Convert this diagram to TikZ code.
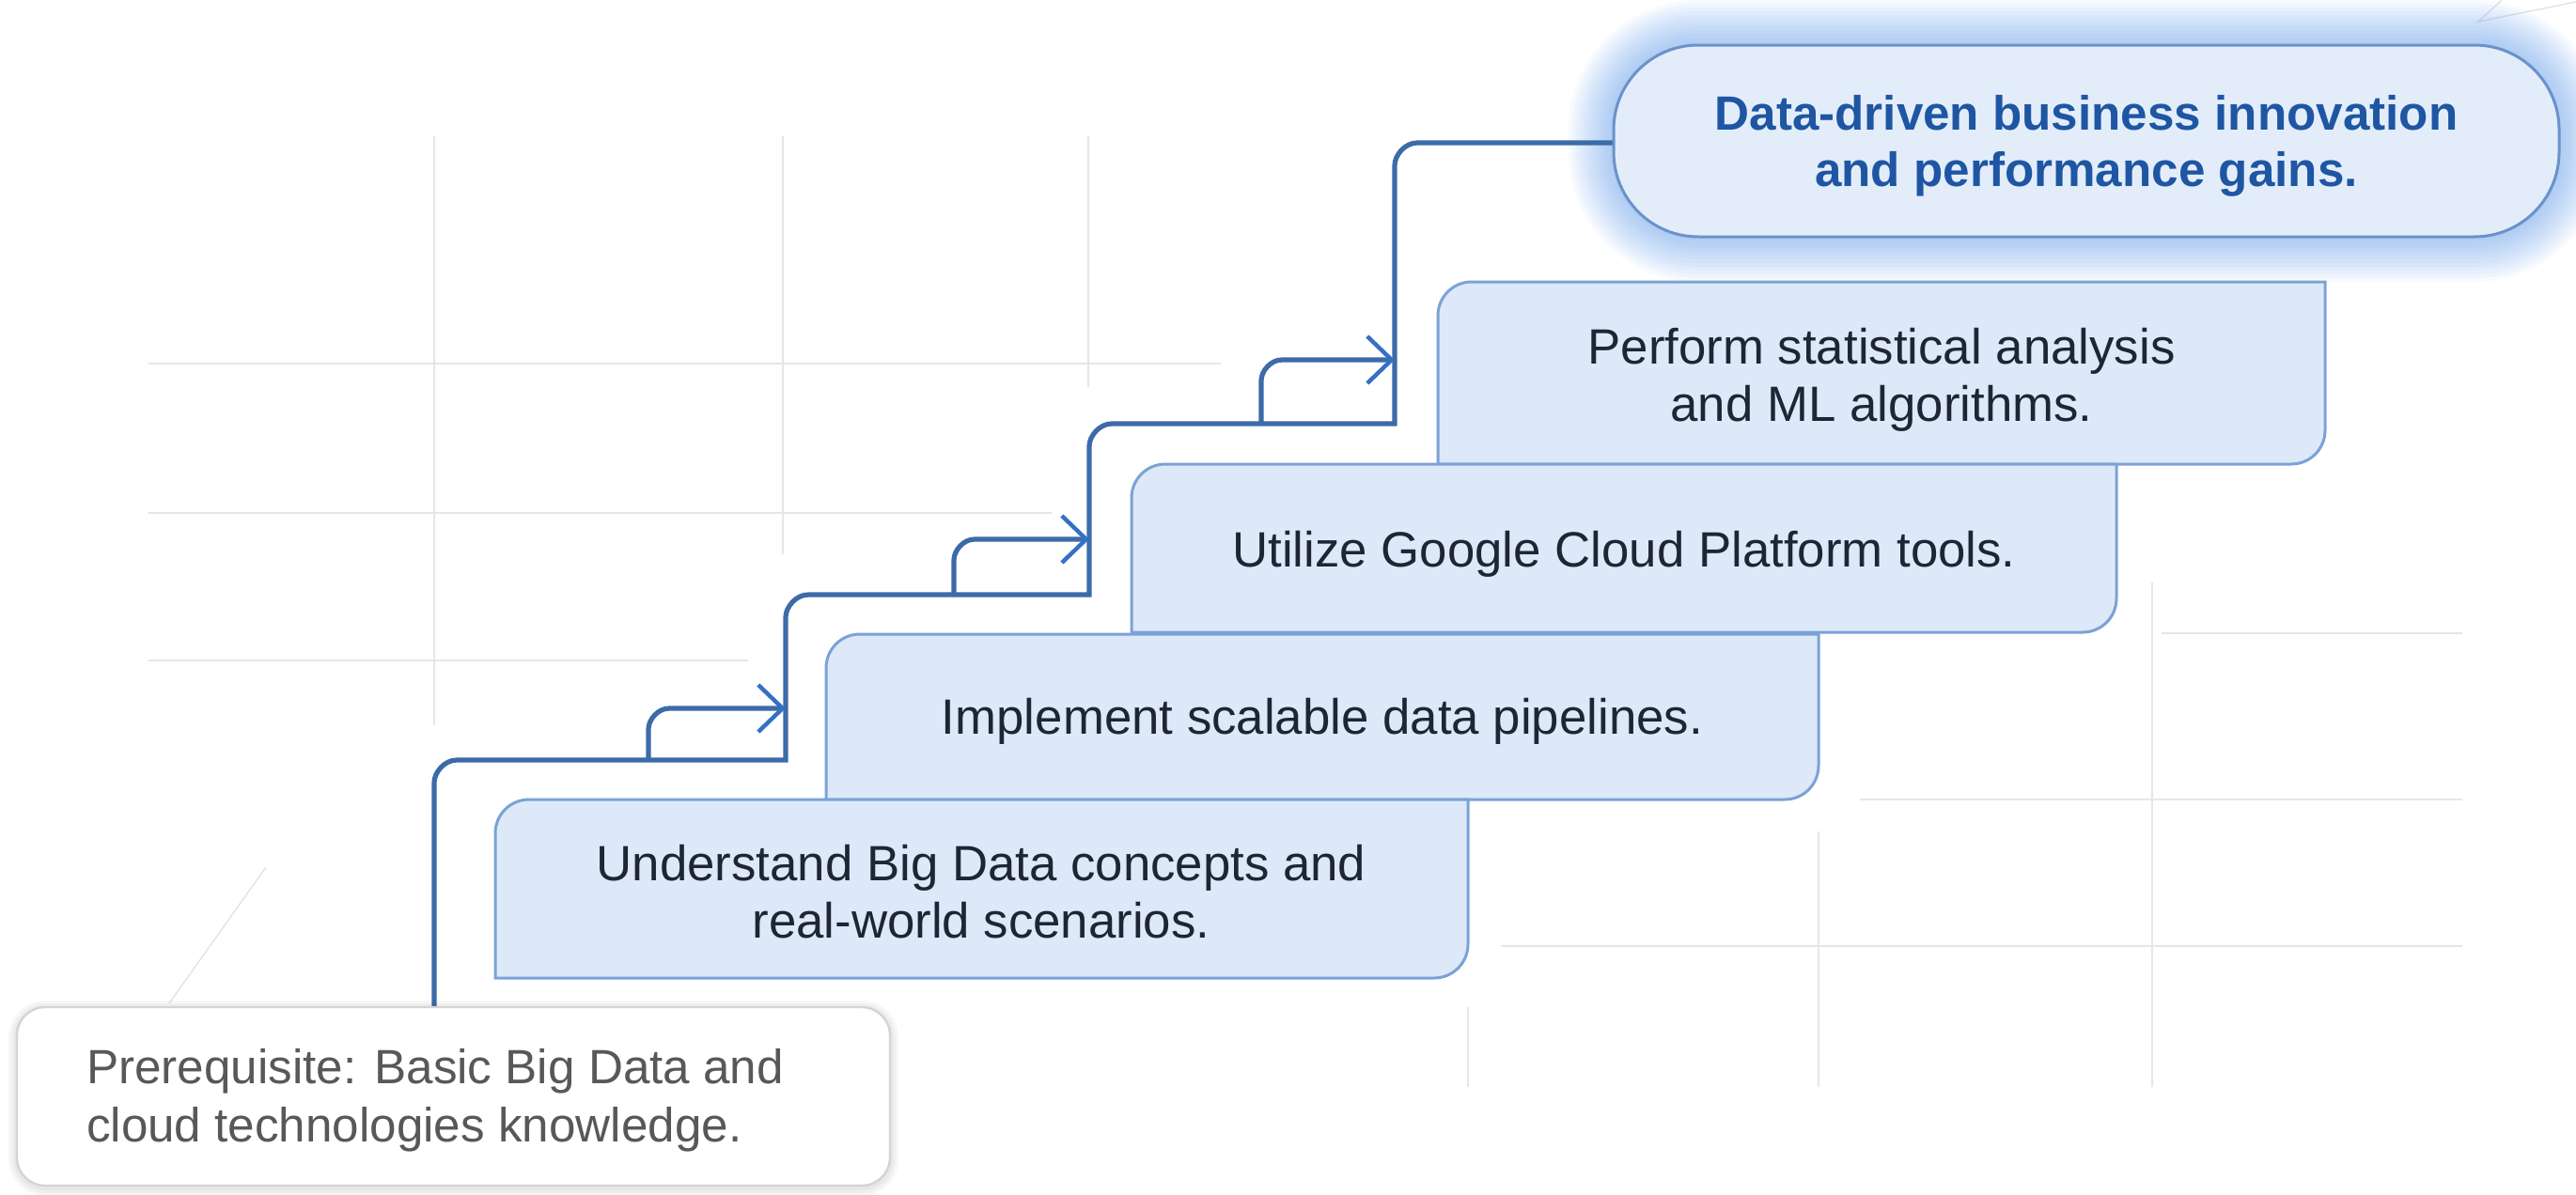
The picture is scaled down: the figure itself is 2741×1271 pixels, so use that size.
\documentclass[tikz,border=0pt]{standalone}
\usepackage{fontspec}
\setmainfont{Liberation Sans}
\usetikzlibrary{arrows.meta}
\definecolor{boxfill}{HTML}{DDE9F8}
\definecolor{boxline}{HTML}{7BA2D6}
\definecolor{goalfill}{HTML}{E3EDFA}
\definecolor{goalline}{HTML}{6A92CB}
\definecolor{stairc}{HTML}{3C6BA8}
\definecolor{arrowc}{HTML}{3470C4}
\definecolor{txtc}{HTML}{1E2633}
\definecolor{goaltxt}{HTML}{1F56A3}
\definecolor{glowc}{HTML}{4A8FE8}
\definecolor{gridc}{HTML}{E6E6E6}
\definecolor{pretxt}{HTML}{585858}
\definecolor{preline}{HTML}{D4D4D4}
% box with rounded top-left and bottom-right corners (radius 36, cubic arcs)
\newcommand{\stairbox}[4]{(#1,#4) -- (#1,#2+36) .. controls (#1,#2+16) and (#1+16,#2) .. (#1+36,#2) -- (#3,#2) -- (#3,#4-36) .. controls (#3,#4-16) and (#3-16,#4) .. (#3-36,#4) -- cycle}
\tikzset{
  gridline/.style={draw=gridc, line width=1pt},
  stepshape/.style={draw=boxline, fill=boxfill, line width=1.5pt},
  steptext/.style={text=txtc, align=center, font=\fontsize{26.4pt}{30.5pt}\selectfont},
  goaltext/.style={text=goaltxt, align=center, font=\fontsize{25.6pt}{30pt}\selectfont\bfseries},
  pretext/.style={text=pretxt, align=left, font=\fontsize{25.6pt}{31pt}\selectfont},
  stairline/.style={draw=stairc, line width=2.6pt},
  branchline/.style={draw=stairc, line width=2.6pt,
    -{Straight Barb[length=13pt,width=25pt,color=arrowc,line width=2.2pt]}},
}
\begin{document}
\begin{tikzpicture}[x=0.5pt,y=-0.5pt]
\useasboundingbox (0,0) rectangle (2741,1271);
\fill[white] (0,0) rectangle (2741,1271);

% background grid
\draw[gridline] (462,145) -- (462,772);
\draw[gridline] (833,145) -- (833,590);
\draw[gridline] (1158,145) -- (1158,412);
\draw[gridline] (158,387) -- (1299,387);
\draw[gridline] (158,546) -- (1119,546);
\draw[gridline] (158,703) -- (796,703);
\draw[gridline] (2300,674) -- (2620,674);
\draw[gridline] (1979,851) -- (2620,851);
\draw[gridline] (1597,1007) -- (2620,1007);
\draw[gridline] (2290,620) -- (2290,1157);
\draw[gridline] (1935,885) -- (1935,1157);
\draw[gridline] (1562,1072) -- (1562,1157);
\draw[gridline, line width=0.8pt] (283,923) -- (180,1068);
\draw[gridline, line width=0.8pt] (2741,2) -- (2637,23) -- (2662,0);

% goal glow
\foreach \w in {8,16,...,96}
  \draw[draw=glowc, opacity=0.045, line width=\w*0.5pt, rounded corners=45pt] (1717,48) rectangle (2723,252);

% staircase line
\coordinate (s0) at (462,1072);
\coordinate (s1) at (836,809);
\coordinate (s2) at (1159,633);
\coordinate (s3) at (1484,451);
\coordinate (s4) at (1717,152);
\draw[stairline] (s0) -- (462,833) .. controls (462,822) and (473,809) .. (486,809) -- (s1)
  -- (836,657) .. controls (836,646) and (847,633) .. (860,633) -- (s2)
  -- (1159,475) .. controls (1159,464) and (1170,451) .. (1183,451) -- (s3)
  -- (1484,176) .. controls (1484,165) and (1495,152) .. (1508,152) -- (s4);

% branches with arrows
\coordinate (a1) at (836,754);
\coordinate (a2) at (1159,574);
\coordinate (a3) at (1484,383);
\draw[branchline] (690,809) -- (690,776) .. controls (690,766) and (700,754) .. (712,754) -- (a1);
\draw[branchline] (1015,633) -- (1015,596) .. controls (1015,586) and (1025,574) .. (1037,574) -- (a2);
\draw[branchline] (1342,451) -- (1342,405) .. controls (1342,395) and (1352,383) .. (1364,383) -- (a3);

% goal box
\draw[draw=goalline, fill=goalfill, line width=1.5pt, rounded corners=45pt] (1717,48) rectangle (2723,252);

% step boxes
\path[stepshape] \stairbox{1530}{300}{2474}{494};
\path[stepshape] \stairbox{1204}{494}{2252}{673};
\path[stepshape] \stairbox{879}{675}{1935}{851};
\path[stepshape] \stairbox{527}{851}{1562}{1041};

% prerequisite box
\foreach \k in {1,2,3}
  \draw[draw=black, opacity=0.03, line width=\k*3pt, rounded corners=15pt] (18,1074) rectangle (947,1264);
\draw[draw=preline, fill=white, line width=1.2pt, rounded corners=15pt] (18,1072) rectangle (947,1262);

% texts
\node[steptext] (t1) at (1044,949) {Understand Big Data concepts and\\real-world scenarios.};
\node[steptext] (t2) at (1407,768) {Implement scalable data pipelines.};
\node[steptext] (t3) at (1728,590) {Utilize Google Cloud Platform tools.};
\node[steptext] (t4) at (2002,404) {Perform statistical analysis\\and ML algorithms.};
\node[goaltext] (t5) at (2220,155) {Data-driven business innovation\\and performance gains.};
\node[pretext, anchor=west] (pre) at (85,1171) {Prerequisite: Basic Big Data and\\cloud technologies knowledge.};
\end{tikzpicture}
\end{document}
